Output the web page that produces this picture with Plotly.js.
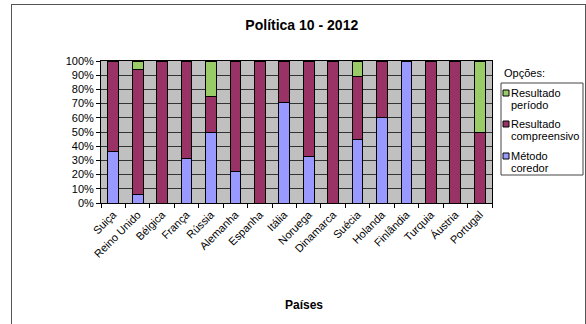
<!DOCTYPE html>
<html>
<head>
<meta charset="utf-8">
<script src="https://cdn.plot.ly/plotly-3.0.1.min.js"></script>
<style>
html,body{margin:0;padding:0;background:#fff;}
#chart{width:586px;height:324px;}
#frame{position:absolute;left:11px;top:4px;width:573px;height:340px;border:1px solid #555;pointer-events:none;}
</style>
</head>
<body>
<div id="chart"></div>
<div id="frame"></div>
<script>
const paises = ["Suiça","Reino Unido","Bélgica","França","Rússia","Alemanha","Espanha","Itália","Noruega","Dinamarca","Suécia","Holanda","Finlândia","Turquia","Áustria","Portugal"];
const metodoCoredor = [36,6,0,31,50,22,0,71,33,0,45,60,100,0,0,0];
const resultadoCompreensivo = [64,88,100,69,25,78,100,29,67,100,44,40,0,100,100,50];
const resultadoPeriodo = [0,6,0,0,25,0,0,0,0,0,11,0,0,0,0,50];
const seriesNames = [["Resultado","período"],["Resultado","compreensivo"],["Método","coredor"]];
const colors = {blue:"#9999FF", purple:"#993366", green:"#99CC66"};

const font = "Liberation Sans, Arial, sans-serif";
const barLine = {color:"#000", width:1};
const traces = [
  {type:"bar", name:"Método coredor", x:paises, y:metodoCoredor, marker:{color:colors.blue, line:barLine}, showlegend:false},
  {type:"bar", name:"Resultado compreensivo", x:paises, y:resultadoCompreensivo, marker:{color:colors.purple, line:barLine}, showlegend:false},
  {type:"bar", name:"Resultado período", x:paises, y:resultadoPeriodo, marker:{color:colors.green, line:barLine}, showlegend:false}
];

// plot area in px
const L=101, R=492, T=61, B=203;
const px = v => (v-L)/(R-L);
const py = v => (B-v)/(B-T);

const shapes = [
  {type:"rect", xref:"paper", yref:"paper", x0:px(501), x1:px(583), y0:py(175), y1:py(83), line:{color:"#444", width:1}, fillcolor:"rgba(0,0,0,0)"}
];
const annotations = [
  {xref:"paper", yref:"paper", x:px(502), y:py(73), xanchor:"left", yanchor:"middle", text:"Opções:", showarrow:false, font:{family:font, size:11, color:"#000"}},
  {xref:"paper", yref:"paper", x:px(304), y:py(305), xanchor:"center", yanchor:"middle", text:"<b>Países</b>", showarrow:false, font:{family:font, size:12, color:"#000"}}
];
const legendItems = [
  {color:colors.green, y:93, lines:seriesNames[0]},
  {color:colors.purple, y:124, lines:seriesNames[1]},
  {color:colors.blue, y:156, lines:seriesNames[2]}
];
legendItems.forEach(it => {
  shapes.push({type:"rect", xref:"paper", yref:"paper", x0:px(503), x1:px(509), y0:py(it.y+3), y1:py(it.y-3), fillcolor:it.color, line:{color:"#000", width:1}});
  it.lines.forEach((t,i) => {
    annotations.push({xref:"paper", yref:"paper", x:px(509), y:py(it.y+i*12), xanchor:"left", yanchor:"middle", text:t, showarrow:false, font:{family:font, size:11, color:"#000"}});
  });
});

const layout = {
  width:586, height:324,
  margin:{l:L, r:586-R, t:T, b:324-B, pad:0},
  paper_bgcolor:"#fff",
  plot_bgcolor:"#C0C0C0",
  barmode:"stack",
  bargap:0.56,
  showlegend:false,
  font:{family:font, size:11, color:"#000"},
  title:{text:"<b>Política 10 - 2012</b>", font:{family:font, size:14, color:"#000"}, x:0.515, xanchor:"center", y:0.922, yanchor:"middle"},
  xaxis:{
    type:"category", tickangle:-45, ticks:"outside", ticklen:4, tickcolor:"#000",
    tickson:"boundaries", showline:true, linecolor:"#000", linewidth:1, mirror:true,
    showgrid:false, tickfont:{family:font, size:11, color:"#000"}
  },
  yaxis:{
    range:[0,100], dtick:10, ticksuffix:"%", ticks:"outside", ticklen:4, tickcolor:"#000",
    showline:true, linecolor:"#000", linewidth:1, mirror:true,
    showgrid:true, gridcolor:"#333", gridwidth:1, zeroline:false,
    tickfont:{family:font, size:11, color:"#000"}, fixedrange:true
  },
  shapes:shapes,
  annotations:annotations
};
Plotly.newPlot("chart", traces, layout, {staticPlot:true, displayModeBar:false});
</script>
</body>
</html>
